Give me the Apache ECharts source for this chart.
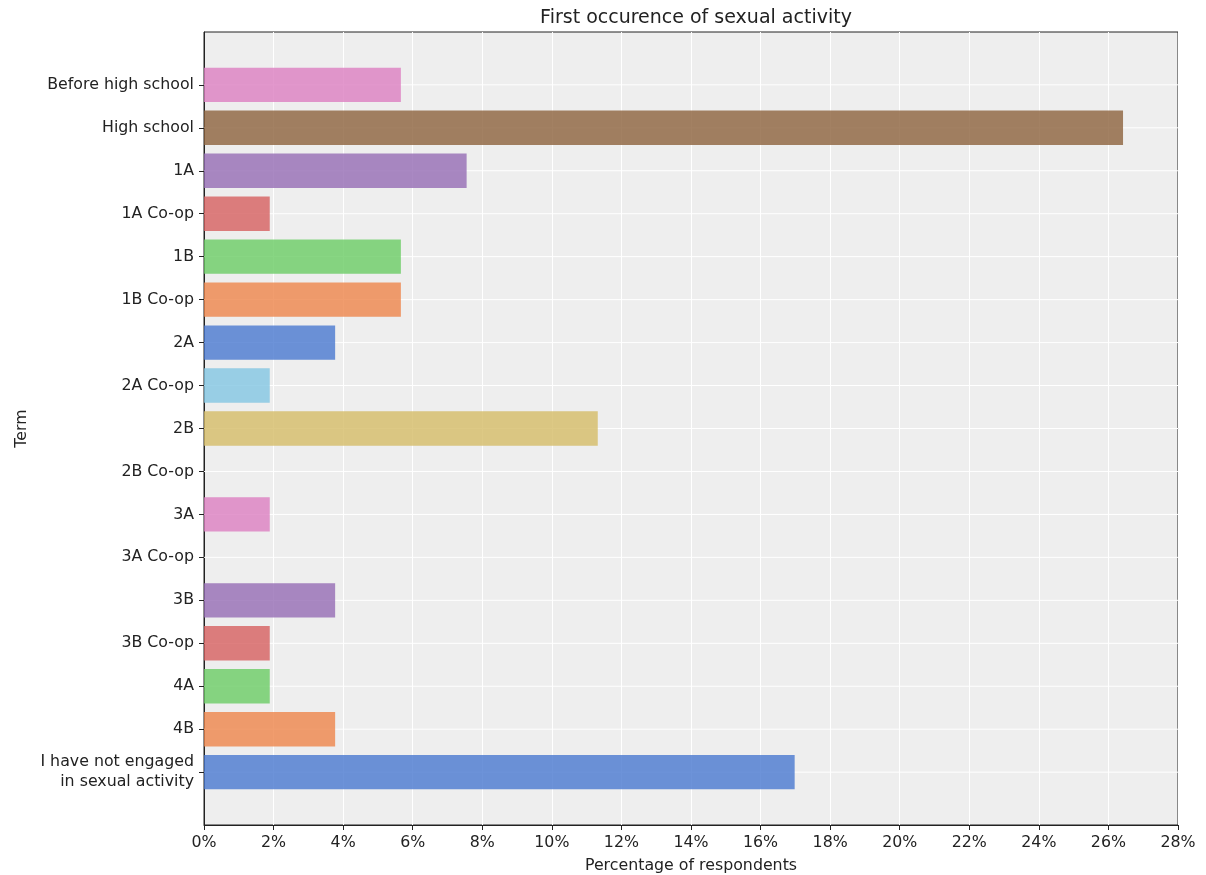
<!DOCTYPE html>
<html>
<head>
<meta charset="utf-8">
<script src="https://cdn.jsdelivr.net/npm/echarts@6/dist/echarts.min.js"></script>
<style>html,body{margin:0;padding:0;background:#fff}#c{width:1206px;height:875px}</style>
</head>
<body>
<div id="c"></div>
<script>
const categories = ["Before high school","High school","1A","1A Co-op","1B","1B Co-op","2A","2A Co-op","2B","2B Co-op","3A","3A Co-op","3B","3B Co-op","4A","4B","I have not engaged\nin sexual activity"];
const values = [5.66,26.42,7.55,1.89,5.66,5.66,3.77,1.89,11.32,0,1.89,0,3.77,1.89,1.89,3.77,16.98];
const colors = ["#dc7ec0","#8c613c","#956cb4","#d65f5f","#6acc64","#ee854a","#4878d0","#82c6e2","#d5bb67","#797979","#dc7ec0","#8c613c","#956cb4","#d65f5f","#6acc64","#ee854a","#4878d0"];
const xTicks = [0,2,4,6,8,10,12,14,16,18,20,22,24,26,28];

const font = "DejaVu Sans";
const chart = echarts.init(document.getElementById('c'), null, {renderer:'canvas'});
const idx = categories.map((_, i) => i);
chart.setOption({
  animation: false,
  backgroundColor: '#ffffff',
  title: {text: 'First occurence of sexual activity', left: 691, textAlign: 'center', top: 4,
    textStyle: {fontFamily: font, fontSize: 19, fontWeight: 'normal', color: '#222'}},
  grid: {left: 204, right: 28, top: 32, bottom: 50, outerBoundsMode: 'none', containLabel: false,
    show: true, backgroundColor: '#eeeeee', borderColor: '#222', borderWidth: 1},
  xAxis: {type: 'value', min: 0, max: 28, interval: 2,
    name: 'Percentage of respondents', nameLocation: 'middle', nameGap: 33,
    nameTextStyle: {fontFamily: font, fontSize: 15.8, color: '#222'},
    axisLine: {show: true, onZero: false, lineStyle: {color: '#222'}},
    axisTick: {show: true, length: 5, lineStyle: {color: '#222'}},
    axisLabel: {fontFamily: font, fontSize: 15.8, color: '#222', margin: 10, formatter: v => v + '%'},
    splitLine: {show: true, lineStyle: {color: '#ffffff', width: 1}}},
  yAxis: {type: 'value', min: -1.23, max: categories.length - 1 + 1.23, inverse: true,
    name: 'Term', nameLocation: 'middle', nameGap: 174, nameRotate: 90,
    nameTextStyle: {fontFamily: font, fontSize: 15.8, color: '#222'},
    axisLine: {show: true, onZero: false, lineStyle: {color: '#222'}},
    axisTick: {show: true, length: 5, customValues: idx, lineStyle: {color: '#222'}},
    axisLabel: {fontFamily: font, fontSize: 15.8, color: '#222', margin: 10, align: 'right', lineHeight: 20,
      customValues: idx, formatter: v => categories[Math.round(v)]},
    splitLine: {show: false}},
  series: [{
    type: 'custom',
    encode: {x: 0, y: 1},
    data: values.map((v, i) => [v, i]),
    renderItem: function (params, api) {
      const v = api.value(0), i = api.value(1);
      const p0 = api.coord([0, i]);
      const p1 = api.coord([v, i]);
      const h = api.size([0, 0.8])[1];
      const cs = params.coordSys;
      return {type: 'group', children: [
        {type: 'line', shape: {x1: cs.x, y1: p0[1], x2: cs.x + cs.width, y2: p0[1]}, style: {stroke: '#ffffff', lineWidth: 1}},
        {type: 'rect', shape: {x: p0[0], y: p0[1] - h / 2, width: p1[0] - p0[0], height: h},
          style: {fill: colors[i], opacity: 0.8}}
      ]};
    }
  }]
});
</script>
</body>
</html>
